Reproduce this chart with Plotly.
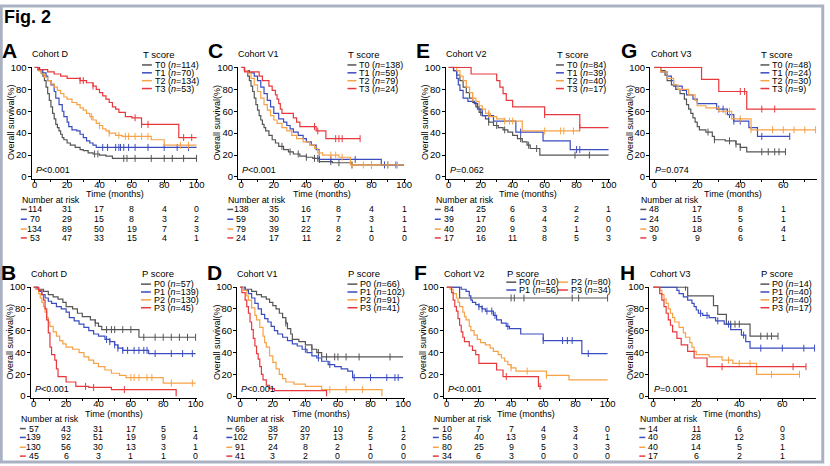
import plotly.graph_objects as go

# ======================= DATA =======================
# Kaplan-Meier step points [time (months), survival %]
# ---- Panel A: Cohort D, T score ----
a_t0 = [[0,100],[2,98],[4,95],[5,92],[6,88],[7,82],[8,76],[9,70],[10,64],[11,58],[12,53],[13,48],[14,45],[15,42],[16,39],[17,36],[18,34],[20,31],[22,29],[25,27],[28,25],[30,24],[33,22],[36,21],[40,20],[44,19],[48,17]]
a_t1 = [[0,100],[3,97],[5,95],[7,92],[8,88],[10,84],[12,78],[13,72],[15,66],[17,60],[18,55],[20,50],[21,46],[23,43],[26,42],[28,39],[30,36],[32,33],[34,31],[36,29],[38,27]]
a_t2 = [[0,100],[2,97],[4,94],[6,91],[8,88],[10,85],[12,82],[14,79],[16,76],[18,73],[20,71],[23,68],[26,66],[28,63],[30,61],[32,58],[34,55],[36,52],[38,49],[40,47],[42,44],[44,42],[46,40],[50,38],[54,37],[72,34],[80,29]]
a_t3 = [[0,100],[2,98],[8,96],[12,94],[16,92],[20,90],[28,88],[32,86],[36,83],[38,80],[40,77],[42,74],[44,71],[46,68],[48,64],[50,62],[52,59],[56,55],[60,54],[66,48],[89,36]]
a_end = [100, 100, 100, 100]
a_cens = [[37,39,55,57,62,72,80,85,92,100],[42,45,50,52,53,55,58,62,70,80,88,95],[35,40,46,52,56,58,62,66,70,90,95],[28,30,36,62,66,70,92,97]]
a_labels = ["T0 (<i>n</i>=114)", "T1 (<i>n</i>=70)", "T2 (<i>n</i>=134)", "T3 (<i>n</i>=53)"]
a_risk = [[114,31,17,8,4,0],[70,29,15,8,3,2],[134,89,50,19,7,3],[53,47,33,15,4,1]]

# ---- Panel C: Cohort V1, T score ----
c_t0 = [[0,100],[2,97],[4,92],[5,88],[6,83],[7,78],[8,72],[9,66],[10,61],[11,56],[12,52],[13,48],[14,45],[15,42],[17,38],[19,34],[21,31],[23,28],[26,25],[29,23],[32,21],[36,19],[40,18],[44,17],[48,14],[56,13],[68,11]]
c_t1 = [[0,100],[2,97],[5,95],[8,92],[10,88],[12,82],[14,76],[16,70],[18,64],[20,58],[23,53],[26,50],[28,47],[30,44],[32,41],[35,38],[38,35],[40,32],[43,29],[46,25],[48,16],[86,11]]
c_t2 = [[0,100],[2,97],[4,95],[6,90],[8,84],[10,78],[12,72],[14,66],[16,61],[18,56],[20,52],[22,49],[25,45],[28,42],[31,38],[34,35],[38,32],[42,29],[45,26],[47,22],[50,20],[60,18],[67,11]]
c_t3 = [[0,100],[2,96],[11,92],[13,88],[17,83],[19,79],[21,75],[22,71],[23,67],[24,62],[25,58],[32,54],[34,50],[36,46],[46,42],[52,35]]
c_end = [100, 100, 100, 73]
c_cens = [[25,30,35,40,45,47,55,60,68,80,90],[48,55,70,88,95],[48,55,58,62,68,75,80,90,96],[45,47,58,60,62,73]]
c_labels = ["T0 (<i>n</i>=138)", "T1 (<i>n</i>=59)", "T2 (<i>n</i>=79)", "T3 (<i>n</i>=24)"]
c_risk = [[138,35,16,8,4,1],[59,30,17,7,3,1],[79,39,22,8,1,1],[24,17,11,2,0,0]]

# ---- Panel E: Cohort V2, T score ----
e_t0 = [[0,100],[3,97],[5,93],[7,88],[9,82],[11,77],[13,72],[15,68],[17,64],[19,59],[21,56],[23,53],[25,50],[28,47],[31,45],[34,43],[37,41],[40,38],[43,35],[46,32],[49,29],[51,26],[57,20]]
e_t1 = [[0,100],[3,97],[5,90],[6,84],[7,79],[9,72],[12,69],[16,67],[18,62],[21,56],[28,51],[42,41],[59,33],[76,25]]
e_t2 = [[0,100],[5,97],[7,92],[9,88],[11,82],[13,77],[15,72],[17,69],[19,65],[21,62],[23,58],[26,55],[30,53],[35,51],[46,42]]
e_t3 = [[0,100],[14,94],[30,88],[32,82],[34,76],[36,70],[40,64],[60,57],[82,45]]
e_end = [100, 100, 82, 100]
e_cens = [[20,25,30,35,45,50,55,79,88],[25,45,80,82],[15,25,35,38,40,60,70,72,78],[60,82]]
e_labels = ["T0 (<i>n</i>=84)", "T1 (<i>n</i>=39)", "T2 (<i>n</i>=40)", "T3 (<i>n</i>=17)"]
e_risk = [[84,25,6,3,2,1],[39,17,6,4,2,0],[40,20,9,3,1,0],[17,16,11,8,5,3]]

# ---- Panel G: Cohort V3, T score ----
g_t0 = [[0,100],[3,97],[5,93],[6,88],[8,84],[10,80],[12,76],[14,71],[15,66],[16,62],[17,58],[18,54],[19,50],[20,46],[21,43],[24,41],[27,37],[28,34],[33,33],[38,30],[40,27],[43,23]]
g_t1 = [[0,100],[3,96],[6,92],[8,88],[9,83],[13,79],[15,75],[18,71],[20,67],[29,62],[34,57],[37,51],[44,45],[48,37]]
g_t2 = [[0,100],[3,96],[6,90],[9,84],[11,80],[16,75],[19,70],[20,65],[24,63],[30,60],[36,53],[45,43]]
g_t3 = [[0,100],[22,89],[30,78],[43,62]]
g_end = [61, 63, 75, 75]
g_cens = [[25,28,35,38,40,50,53,56,58,61],[30,32,35,37,40,50,63],[33,35,40,45,55,60,65,70,75],[40,42,50,56]]
g_labels = ["T0 (<i>n</i>=48)", "T1 (<i>n</i>=24)", "T2 (<i>n</i>=30)", "T3 (<i>n</i>=9)"]
g_risk = [[48,17,8,1],[24,15,5,1],[30,18,6,4],[9,9,6,1]]

# ---- Panel B: Cohort D, P score ----
b_p0 = [[0,100],[3,98],[6,96],[9,93],[12,91],[15,89],[18,86],[20,82],[24,80],[27,76],[30,73],[35,70],[38,67],[40,64],[42,61],[65,54]]
b_p1 = [[0,100],[2,98],[3,96],[5,93],[7,90],[9,87],[11,85],[14,82],[17,80],[20,77],[22,72],[25,69],[28,66],[31,63],[34,60],[37,57],[40,55],[44,52],[47,50],[50,47],[52,44],[55,42],[71,39]]
b_p2 = [[0,100],[1,98],[3,94],[4,90],[5,86],[6,82],[7,77],[8,72],[9,68],[10,64],[12,59],[14,55],[16,51],[18,48],[20,45],[24,43],[28,40],[31,36],[34,33],[37,30],[40,27],[44,24],[48,21],[53,19],[57,17],[80,12]]
b_p3 = [[0,100],[3,97],[5,93],[6,88],[7,80],[8,70],[9,58],[10,45],[11,38],[13,33],[14,25],[15,18],[20,13],[26,9],[34,8],[48,6],[88,0]]
b_end = [100, 100, 100, 88]
b_cens = [[38,45,48,50,55,60,68,75,80,85,90,95,100],[45,47,50,52,55,58,62,65,68,70,75,85,92,98],[60,62,65,70,73,85,98],[32,37,56]]
b_labels = ["P0 (<i>n</i>=57)", "P1 (<i>n</i>=139)", "P2 (<i>n</i>=130)", "P3 (<i>n</i>=45)"]
b_risk = [[57,43,31,17,5,1],[139,92,51,19,9,4],[130,56,30,13,3,1],[45,6,3,1,1,0]]

# ---- Panel D: Cohort V1, P score ----
d_p0 = [[0,100],[3,98],[7,96],[10,93],[13,91],[16,89],[18,86],[20,83],[22,80],[24,76],[26,72],[28,67],[29,62],[31,57],[32,52],[36,50],[40,47],[44,43],[47,40],[50,36]]
d_p1 = [[0,100],[3,97],[5,94],[7,90],[9,85],[11,80],[13,75],[15,71],[17,68],[19,64],[21,60],[23,57],[26,54],[29,51],[32,48],[35,46],[38,43],[41,40],[44,37],[47,35],[50,32],[54,29],[58,27],[62,25],[66,23],[69,17]]
d_p2 = [[0,100],[2,97],[4,92],[5,88],[7,81],[9,74],[10,70],[12,63],[14,55],[15,49],[16,45],[18,37],[20,31],[22,25],[24,20],[26,16],[28,13],[33,11],[40,9],[50,6],[87,0]]
d_p3 = [[0,100],[1,95],[3,88],[4,82],[5,76],[6,68],[7,61],[8,53],[9,46],[10,39],[11,34],[12,27],[13,20],[14,15],[16,10],[18,7],[21,5],[53,0]]
d_end = [100, 100, 87, 53]
d_cens = [[28,44,48,53,58,60,65,73,92],[40,48,55,70,80,90,95,97],[55,65,75],[]]
d_labels = ["P0 (<i>n</i>=66)", "P1 (<i>n</i>=102)", "P2 (<i>n</i>=91)", "P3 (<i>n</i>=41)"]
d_risk = [[66,38,20,10,2,1],[102,57,37,13,5,2],[91,24,8,2,1,0],[41,3,2,0,0,0]]

# ---- Panel F: Cohort V2, P score ----
f_p0 = [[0,100],[8,90]]
f_p1 = [[0,100],[9,98],[12,96],[14,92],[15,88],[16,86],[18,84],[20,82],[22,80],[24,78],[29,74],[31,70],[34,67],[37,64],[39,62],[46,57],[60,51],[84,39]]
f_p2 = [[0,100],[2,98],[4,94],[6,90],[7,86],[8,82],[10,77],[11,73],[12,70],[14,64],[15,60],[17,56],[19,52],[21,49],[24,47],[27,44],[29,41],[32,38],[34,35],[36,32],[38,29],[40,26],[43,23],[62,19],[76,15]]
f_p3 = [[0,100],[3,95],[4,88],[5,82],[6,78],[7,71],[8,65],[9,59],[10,54],[11,50],[14,46],[16,42],[18,38],[20,30],[31,24],[35,18],[57,9]]
f_end = [100, 100, 100, 59]
f_cens = [[40,42,48,78,82,100],[20,22,25,28,30,38,60,72,75,78,88],[40,50,62],[37,58]]
f_labels = ["P0 (<i>n</i>=10)", "P1 (<i>n</i>=56)", "P2 (<i>n</i>=80)", "P3 (<i>n</i>=34)"]
f_risk = [[10,7,7,4,3,0],[56,40,13,9,4,1],[80,25,9,5,3,3],[34,6,3,0,0,0]]

# ---- Panel H: Cohort V3, P score ----
h_p0 = [[0,100],[16,92],[28,83],[30,75],[34,66],[45,55]]
h_p1 = [[0,100],[11,97],[12,94],[14,91],[16,88],[18,85],[19,82],[20,79],[21,76],[23,74],[26,72],[29,69],[33,66],[36,61],[41,56],[43,50],[45,44]]
h_p2 = [[0,100],[3,97],[4,93],[5,89],[6,85],[7,80],[8,76],[9,72],[10,68],[12,63],[14,58],[15,54],[17,49],[18,45],[19,41],[20,38],[26,36],[32,33],[37,30],[48,20]]
h_p3 = [[0,100],[3,94],[4,88],[5,82],[6,76],[7,70],[8,65],[9,59],[11,53],[13,47],[16,41],[19,35],[25,27]]
h_end = [58, 75, 68, 71]
h_cens = [[15,36,38,40,50,53,55,58],[22,25,30,35,42,50,60,70,75],[35,40,45,55,68],[32,65,71]]
h_labels = ["P0 (<i>n</i>=14)", "P1 (<i>n</i>=40)", "P2 (<i>n</i>=40)", "P3 (<i>n</i>=17)"]
h_risk = [[14,11,6,0],[40,28,12,3],[40,14,5,1],[17,6,2,1]]

risk_cols_100 = [0, 20, 40, 60, 80, 100]
risk_cols_60 = [0, 20, 40, 60]

panel_letters = ["A", "C", "E", "G", "B", "D", "F", "H"]
cohorts = ["Cohort D", "Cohort V1", "Cohort V2", "Cohort V3", "Cohort D", "Cohort V1", "Cohort V2", "Cohort V3"]
groups = ["T score"] * 4 + ["P score"] * 4
pvalues = ["<i>P</i>&lt;0.001", "<i>P</i>&lt;0.001", "<i>P</i>=0.062", "<i>P</i>=0.074",
           "<i>P</i>&lt;0.001", "<i>P</i>&lt;0.001", "<i>P</i>&lt;0.001", "<i>P</i>=0.001"]

# ======================= STYLE / LAYOUT =======================
W, H = 830, 466
FONT = "Liberation Sans, Arial, Helvetica, sans-serif"
COLORS = ["#555555", "#3b4cc0", "#f7a247", "#e8383d"]

PANELS = [
    dict(curves=[a_t0, a_t1, a_t2, a_t3], end=a_end, cens=a_cens, labels=a_labels, risk=a_risk, cols=risk_cols_100),
    dict(curves=[c_t0, c_t1, c_t2, c_t3], end=c_end, cens=c_cens, labels=c_labels, risk=c_risk, cols=risk_cols_100),
    dict(curves=[e_t0, e_t1, e_t2, e_t3], end=e_end, cens=e_cens, labels=e_labels, risk=e_risk, cols=risk_cols_100),
    dict(curves=[g_t0, g_t1, g_t2, g_t3], end=g_end, cens=g_cens, labels=g_labels, risk=g_risk, cols=risk_cols_60),
    dict(curves=[b_p0, b_p1, b_p2, b_p3], end=b_end, cens=b_cens, labels=b_labels, risk=b_risk, cols=risk_cols_100),
    dict(curves=[d_p0, d_p1, d_p2, d_p3], end=d_end, cens=d_cens, labels=d_labels, risk=d_risk, cols=risk_cols_100),
    dict(curves=[f_p0, f_p1, f_p2, f_p3], end=f_end, cens=f_cens, labels=f_labels, risk=f_risk, cols=risk_cols_100),
    dict(curves=[h_p0, h_p1, h_p2, h_p3], end=h_end, cens=h_cens, labels=h_labels, risk=h_risk, cols=risk_cols_60),
]

# pixel geometry: x0 = pixel of t=0, xT = pixel of t=T
GEOM = [
    dict(x0=35, xT=198, T=100, xmax=101, leg=(143, 155, 153)),
    dict(x0=243, xT=407, T=100, xmax=101, leg=(350, 361, 359)),
    dict(x0=452, xT=613, T=100, xmax=101, leg=(560, 570, 568)),
    dict(x0=659, xT=789, T=60, xmax=75.5, leg=(766, 777, 775)),
    dict(x0=34, xT=197, T=100, xmax=101, leg=(142, 154, 152)),
    dict(x0=242, xT=406, T=100, xmax=101, leg=(350, 362, 360)),
    dict(x0=450, xT=612, T=100, xmax=101, leg=(510, 522, 520)),
    dict(x0=658, xT=788, T=60, xmax=75.5, leg=(766, 777, 775)),
]
ROWS = [
    dict(y100=63.5, y0=175, title=50, letter=46, legt=50, legrows=[61, 69, 77, 85], p=168,
         time=192, nar=198, risk=[208, 218, 228, 237]),
    dict(y100=287, y0=398, title=274, letter=272, legt=273, legrows=[284, 292, 300, 308], p=391,
         time=416, nar=421, risk=[431, 440, 450, 459]),
]


def PX(x):
    return x / W


def PY(y):
    return 1 - y / H


def surv_at(curve, t):
    s = curve[0][1]
    for tt, ss in curve:
        if tt <= t:
            s = ss
    return s


def text_ann(x, y, text, size=9, xanchor="left", **kw):
    d = dict(x=x, y=y, xref="paper", yref="paper", text=text, showarrow=False, xanchor=xanchor,
             yanchor="middle", borderpad=0, font=dict(family=FONT, size=size, color="black"))
    d.update(kw)
    return d


fig = go.Figure()
ann = []
shapes = []
layout = {}

for i, (P, G) in enumerate(zip(PANELS, GEOM), start=1):
    R = ROWS[0] if i <= 4 else ROWS[1]
    xa, ya = f"x{i}", f"y{i}"
    xk = (G["xT"] - G["x0"]) / G["T"]
    xr = [-2.0, G["xmax"]]
    left = G["x0"] + xk * xr[0]
    right = G["x0"] + xk * xr[1]
    yk = (R["y0"] - R["y100"]) / 100.0
    yr = [-2.0, 100.5]
    bottom = R["y0"] - yk * yr[0]
    top = R["y0"] - yk * yr[1]
    axis_common = dict(showgrid=False, zeroline=False, showline=True, linecolor="black", linewidth=1,
                       ticks="outside", ticklen=3, tickwidth=1, tickcolor="black",
                       tickfont=dict(family=FONT, size=9.5, color="black"))
    layout[f"xaxis{i}"] = dict(domain=[PX(left), PX(right)], range=xr, anchor=ya, tickmode="linear",
                               tick0=0, dtick=20, ticklabelstandoff=-7,
                               minor=dict(dtick=10, tick0=0, ticks="outside", ticklen=2, tickcolor="black"),
                               **axis_common)
    layout[f"yaxis{i}"] = dict(domain=[PY(bottom), PY(top)], range=yr, anchor=xa, tickmode="linear",
                               tick0=0, dtick=20, ticklabelstandoff=-1, **axis_common)

    for k, curve in enumerate(P["curves"]):
        xs = [p[0] for p in curve] + [P["end"][k]]
        ys = [p[1] for p in curve] + [curve[-1][1]]
        fig.add_trace(go.Scatter(x=xs, y=ys, mode="lines", xaxis=xa, yaxis=ya,
                                 line=dict(shape="hv", color=COLORS[k], width=1.2),
                                 showlegend=False, hoverinfo="skip"))
        cs = P["cens"][k]
        if cs:
            fig.add_trace(go.Scatter(x=cs, y=[surv_at(curve, c) for c in cs], mode="markers",
                                     xaxis=xa, yaxis=ya, showlegend=False, hoverinfo="skip",
                                     marker=dict(symbol="line-ns", size=5,
                                                 line=dict(color=COLORS[k], width=1))))

    # panel letter, cohort title
    ann.append(text_ann(PX(G["x0"] - 34), PY(R["letter"]), "<b>%s</b>" % panel_letters[i - 1], size=21))
    ann.append(text_ann(PX(G["x0"] - 4), PY(R["title"]), cohorts[i - 1]))
    # y-axis title
    ann.append(text_ann(PX(G["x0"] - 24), PY((R["y0"] + R["y100"]) / 2), "Overall survival(%)",
                        xanchor="center", textangle=-90))
    # x-axis title
    ann.append(text_ann(PX((left + right) / 2), PY(R["time"]), "Time (months)", xanchor="center"))
    # p-value
    ann.append(text_ann(PX(G["x0"]), PY(R["p"]), pvalues[i - 1]))
    # legend
    lx, tx, lx2 = G["leg"]
    ann.append(text_ann(PX(lx), PY(R["legt"]), groups[i - 1], size=9.5))
    for k in range(4):
        if i == 7:
            col, row = k // 2, k % 2
            ly = [282, 290][row]
            x1 = lx + col * 52
            x2 = x1 + 10
            xt = x2 + 2
        else:
            ly = R["legrows"][k]
            x1, x2, xt = lx, lx2, tx
        shapes.append(dict(type="line", xref="paper", yref="paper", x0=PX(x1), x1=PX(x2),
                           y0=PY(ly), y1=PY(ly), line=dict(color=COLORS[k], width=1.5)))
        ann.append(text_ann(PX(xt), PY(ly), P["labels"][k]))
    # number at risk table
    ann.append(text_ann(PX(G["x0"] - 14), PY(R["nar"]), "Number at risk", size=8.8))
    for k in range(4):
        ry = R["risk"][k]
        shapes.append(dict(type="line", xref="paper", yref="paper", x0=PX(G["x0"] - 14), x1=PX(G["x0"] - 8),
                           y0=PY(ry), y1=PY(ry), line=dict(color=COLORS[k], width=1.5)))
        for c, n in zip(P["cols"], P["risk"][k]):
            ann.append(dict(x=c, xref=xa, y=PY(ry), yref="paper", text=str(n), showarrow=False,
                            xanchor="center", yanchor="middle", borderpad=0,
                            font=dict(family=FONT, size=8.8, color="black")))

# figure title
ann.append(text_ann(PX(3), PY(12), "<b>Fig. 2</b>", size=18))
# frame
shapes.append(dict(type="rect", xref="paper", yref="paper", x0=0.0015, x1=0.9985, y0=0.002, y1=0.998,
                   line=dict(color="#a9b1c2", width=3), fillcolor="rgba(0,0,0,0)"))

fig.update_layout(width=W, height=H, margin=dict(l=0, r=0, t=0, b=0), paper_bgcolor="white",
                  plot_bgcolor="white", annotations=ann, shapes=shapes, showlegend=False,
                  font=dict(family=FONT), **layout)
fig.write_html("out.html", config={"displayModeBar": False},
               post_script="document.body.style.margin='0';document.body.style.padding='0';")
